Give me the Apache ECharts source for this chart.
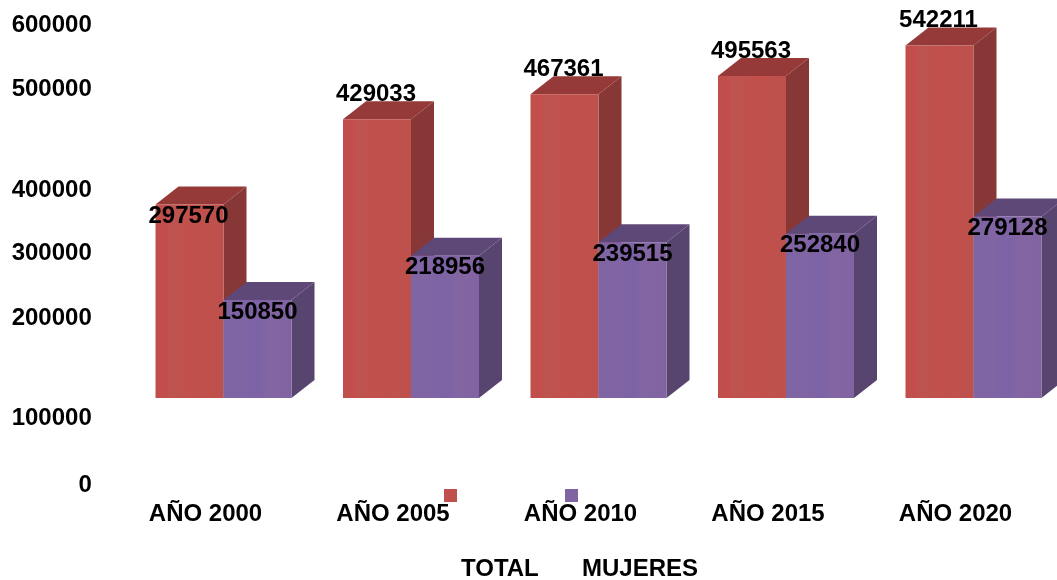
<!DOCTYPE html>
<html>
<head>
<meta charset="utf-8">
<style>html,body{margin:0;padding:0;background:#fff}#c{width:1057px;height:580px}</style>
<script src="https://cdn.jsdelivr.net/npm/echarts@6/dist/echarts.min.js"></script>
</head>
<body>
<div id="c"></div>
<script>
const categories = ['AÑO 2000', 'AÑO 2005', 'AÑO 2010', 'AÑO 2015', 'AÑO 2020'];
const total = [297570, 429033, 467361, 495563, 542211];
const mujeres = [150850, 218956, 239515, 252840, 279128];
const seriesNames = ['TOTAL', 'MUJERES'];
const tickLabels = ['0', '100000', '200000', '300000', '400000', '500000', '600000'];
// The reference prints its tick labels unevenly; these are the axis values they sit at.
const tickLabelAt = [-135000, -32000, 122000, 222000, 319000, 475000, 574000];

const FONT = '"Liberation Sans", Arial, sans-serif';
const DX = 23, DY = 18, BAR_W = 68, CENTER_SHIFT = 18;

function bar3d(opts) {
  return function (params, api) {
    const i = api.value(0), v = api.value(1);
    const top = api.coord([i, v]), base = api.coord([i, 0]);
    const x0 = top[0] + CENTER_SHIFT + opts.side * BAR_W;
    const x1 = x0 + BAR_W, yT = top[1], yB = base[1];
    const lx = (x0 + x1) / 2 + opts.labelDx;
    const ly = (opts.side === -1 && i === 0) ? yT + 12 : yT + opts.labelDy;
    return {
      type: 'group',
      children: [
        { type: 'polygon', shape: { points: [[x1, yT], [x1 + DX, yT - DY], [x1 + DX, yB - DY], [x1, yB]] }, style: { fill: opts.sideColor } },
        { type: 'polygon', shape: { points: [[x0, yT], [x0 + DX, yT - DY], [x1 + DX, yT - DY], [x1, yT]] }, style: { fill: opts.topColor } },
        { type: 'rect', shape: { x: x0, y: yT, width: BAR_W, height: yB - yT },
          style: { fill: { type: 'linear', x: 0, y: 0, x2: 1, y2: 0, colorStops: opts.stops } } },
        { type: 'text', z2: 50, style: { x: lx, y: ly, text: String(v), align: 'center', verticalAlign: 'middle',
          fill: '#000', font: 'bold 24px ' + FONT } }
      ]
    };
  };
}
const redStops = [
  { offset: 0, color: '#BF4F4C' }, { offset: 0.17, color: '#C44E4B' }, { offset: 0.2, color: '#BC5450' },
  { offset: 0.5, color: '#C2504B' }, { offset: 1, color: '#BE514D' }];
const purpleStops = [
  { offset: 0, color: '#7F65A3' }, { offset: 0.3, color: '#8064A4' }, { offset: 0.5, color: '#7C63A6' },
  { offset: 0.7, color: '#8365A2' }, { offset: 1, color: '#8163A2' }];

function toData(arr) { return arr.map((v, i) => [i, v]); }

const chart = echarts.init(document.getElementById('c'), null, { renderer: 'canvas' });
chart.setOption({
  animation: false,
  backgroundColor: '#fff',
  grid: { left: 111.75, width: 937.5, top: 8, height: 481 },
  legend: {
    left: 444, top: 489, itemWidth: 13, itemHeight: 13, itemGap: 108, icon: 'rect',
    selectedMode: false, padding: 0, formatter: () => '', data: seriesNames
  },
  xAxis: {
    type: 'category', data: categories,
    axisLine: { show: false, onZero: false }, axisTick: { show: false }, splitLine: { show: false },
    axisLabel: { margin: 13, color: '#000', fontWeight: 'bold', fontSize: 24, fontFamily: FONT, interval: 0 }
  },
  yAxis: {
    type: 'value', min: -140000, max: 600000,
    axisLine: { show: false }, axisTick: { show: false }, splitLine: { show: false },
    axisLabel: {
      customValues: tickLabelAt,
      formatter: (val) => tickLabels[tickLabelAt.indexOf(val)],
      margin: 20, color: '#000', fontWeight: 'bold', fontSize: 24, fontFamily: FONT
    }
  },
  series: [
    { name: seriesNames[0], type: 'custom', z: 2, itemStyle: { color: '#C0504D' }, data: toData(total),
      encode: { x: 0, y: 1 },
      renderItem: bar3d({ side: -1, stops: redStops, sideColor: '#873735', topColor: '#953A38', labelDx: -1, labelDy: -25 }) },
    { name: seriesNames[1], type: 'custom', z: 3, itemStyle: { color: '#8064A2' }, data: toData(mujeres),
      encode: { x: 0, y: 1 },
      renderItem: bar3d({ side: 0, stops: purpleStops, sideColor: '#574570', topColor: '#5E4878', labelDx: 0, labelDy: 12 }) }
  ],
  graphic: [
    { type: 'text', left: 461, top: 557, style: { text: seriesNames[0], fill: '#000', font: 'bold 24px ' + FONT } },
    { type: 'text', left: 582, top: 557, style: { text: seriesNames[1], fill: '#000', font: 'bold 24px ' + FONT } }
  ]
});
</script>
</body>
</html>
